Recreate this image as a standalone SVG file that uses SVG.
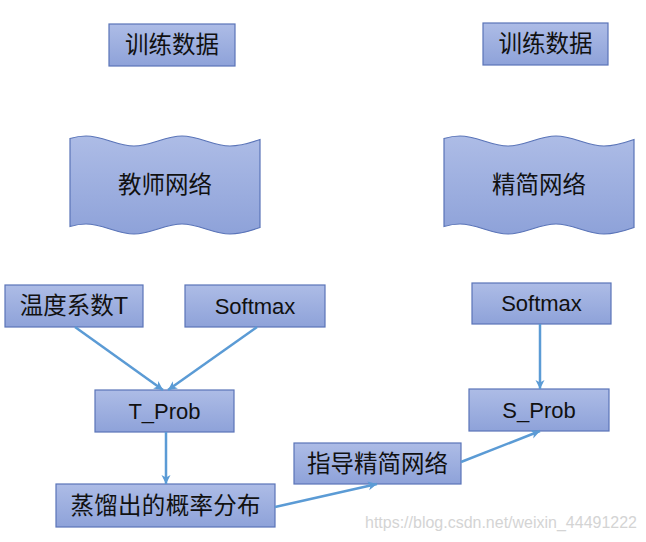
<svg xmlns="http://www.w3.org/2000/svg" width="646" height="542" viewBox="0 0 646 542">
<defs>
<linearGradient id="fillG" x1="0" y1="0" x2="0" y2="1">
<stop offset="0" stop-color="#adbce6"/>
<stop offset="1" stop-color="#8ea2d9"/>
</linearGradient>
<marker id="ah" markerWidth="10" markerHeight="10" refX="9" refY="5" orient="auto" markerUnits="userSpaceOnUse">
<path d="M0,0.5 L9,5 L0,9.5 L2.5,5 Z" fill="#5b9bd5"/>
</marker>
<path id="wave" d="M0,-2.5 C5,-4 10,-5 16,-5 C33,-5 47,5 64,5 C81,5 95,-5 112,-5 C129,-5 143,5 160,5 C171,5 180,2 190,-1.5 L190,86.5 C180,90 171,93 160,93 C143,93 129,83 112,83 C95,83 81,93 64,93 C47,93 33,83 16,83 C10,83 5,84 0,85.5 Z"/>
</defs>
<style>
.box{fill:url(#fillG);stroke:#5a74b8;stroke-width:1.2}
.t{font-family:"Liberation Sans","Noto Sans CJK SC",sans-serif;font-size:23.5px;fill:#111;text-anchor:middle;dominant-baseline:central}
.l{font-family:"Liberation Sans","Noto Sans CJK SC",sans-serif;font-size:22px;fill:#111;text-anchor:middle;dominant-baseline:central}
.c{fill:none;stroke:#5b9bd5;stroke-width:2.5;marker-end:url(#ah)}
</style>
<rect width="646" height="542" fill="#ffffff"/>

<g id="train-left"><rect class="box" x="109" y="24" width="126" height="42"/><text class="t" x="172" y="45">训练数据</text></g>
<g id="train-right"><rect class="box" x="483" y="23" width="125" height="42"/><text class="t" x="545.5" y="44">训练数据</text></g>

<g id="teacher"><use href="#wave" x="70" y="141" class="box"/><text class="t" x="165" y="185">教师网络</text></g>
<g id="student"><use href="#wave" x="444" y="141" class="box"/><text class="t" x="539" y="185">精简网络</text></g>

<g id="temp"><rect class="box" x="5" y="285" width="138" height="42"/><text class="t" x="74" y="306">温度系数T</text></g>
<g id="softmax-left"><rect class="box" x="185" y="285" width="140" height="42"/><text class="l" x="255" y="306">Softmax</text></g>
<g id="tprob"><rect class="box" x="95" y="390" width="139" height="42"/><text class="l" x="164.5" y="411">T_Prob</text></g>
<g id="softmax-right"><rect class="box" x="472" y="283" width="139" height="41"/><text class="l" x="541.5" y="303.5">Softmax</text></g>
<g id="sprob"><rect class="box" x="469" y="389" width="140" height="42"/><text class="l" x="539" y="410">S_Prob</text></g>
<g id="distill"><rect class="box" x="56" y="484" width="219" height="43"/><text class="t" x="165.5" y="505.5" textLength="190" lengthAdjust="spacing">蒸馏出的概率分布</text></g>
<g id="guide"><rect class="box" x="294" y="443" width="167" height="41"/><text class="t" x="377.5" y="463.5">指导精简网络</text></g>

<g id="connectors">
<line class="c" x1="75" y1="327" x2="163" y2="390"/>
<line class="c" x1="257" y1="327" x2="168" y2="390"/>
<line class="c" x1="166" y1="432" x2="166" y2="484"/>
<line class="c" x1="540" y1="324" x2="540" y2="389"/>
<line class="c" x1="275" y1="507" x2="377" y2="484"/>
<line class="c" x1="461" y1="462" x2="540" y2="431"/>
</g>

<text x="501" y="528" style="font-family:'Liberation Sans',sans-serif;font-size:16px;fill:#d4d4d4;text-anchor:middle" textLength="272" lengthAdjust="spacingAndGlyphs">https://blog.csdn.net/weixin_44491222</text>
</svg>
